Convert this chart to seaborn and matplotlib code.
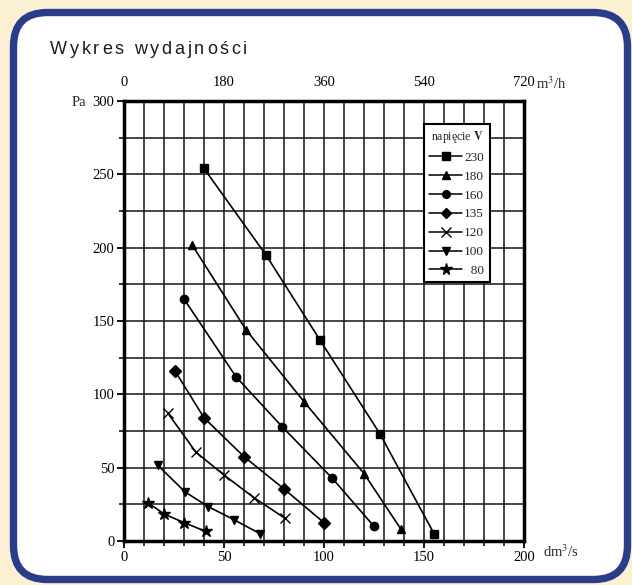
import matplotlib
matplotlib.use("Agg")
import matplotlib.pyplot as plt
import seaborn as sns
import pandas as pd
from matplotlib.patches import FancyBboxPatch
from matplotlib.lines import Line2D
from matplotlib.transforms import IdentityTransform

# ---- data ----
voltages = ["230", "180", "160", "135", "120", "100", "80"]
markers = ["s", "^", "o", "D", "x", "v", "*"]
flow_230 = [40, 71, 98, 128, 155]
pres_230 = [254, 195, 137, 73, 5]
flow_180 = [34, 61, 90, 120, 138.5]
pres_180 = [202, 144, 95, 46, 8]
flow_160 = [30, 56, 79, 104, 125]
pres_160 = [165, 112, 78, 43, 10]
flow_135 = [25.5, 40, 60, 80, 100]
pres_135 = [116, 84, 57.5, 35.5, 12.5]
flow_120 = [22, 36, 50, 65, 80.5]
pres_120 = [87, 60.5, 45, 29.5, 15.5]
flow_100 = [17, 30.5, 42, 55, 68]
pres_100 = [51.5, 33.5, 23.5, 14.5, 5]
flow_80 = [12, 20, 30, 41]
pres_80 = [26, 18.5, 12.5, 6.5]

flows = [flow_230, flow_180, flow_160, flow_135, flow_120, flow_100, flow_80]
press = [pres_230, pres_180, pres_160, pres_135, pres_120, pres_100, pres_80]

x_ticks = [0, 50, 100, 150, 200]
y_ticks = [0, 50, 100, 150, 200, 250, 300]
top_labels = ["0", "180", "360", "540", "720"]
title = "Wykres wydajności"

rows = []
for v, fx, py in zip(voltages, flows, press):
    for a, b in zip(fx, py):
        rows.append({"V": v, "flow": a, "pressure": b})
df = pd.DataFrame(rows)

# ---- figure ----
sns.set_style("white")
plt.rcParams["font.family"] = ["Liberation Serif", "DejaVu Serif"]
plt.rcParams["mathtext.fontset"] = "stix"

W, H = 632, 585
fig = plt.figure(figsize=(W / 100, H / 100), dpi=100)
fig.patch.set_facecolor("#FBF0D3")

blue = "#2B3C88"
panel = FancyBboxPatch((13.5, H - 579.5), 627.5 - 13.5, 579.5 - 12.5,
                       boxstyle="round,pad=0,rounding_size=34",
                       transform=IdentityTransform(), facecolor="white",
                       edgecolor=blue, linewidth=5.3, zorder=0)
fig.add_artist(panel)

# letter-spaced title, placed character by character
renderer = fig.canvas.get_renderer()
xpos = 50.0
tracking = 2.7
word_gap = 8.0
for ch in title:
    if ch == " ":
        xpos += word_gap
        continue
    t = fig.text(xpos / W, 1 - 50 / H, ch, fontsize=13, color="#1c1c1c",
                 va="center", ha="left", family=["Liberation Sans", "DejaVu Sans"])
    bb = t.get_window_extent(renderer=renderer)
    xpos += bb.width + tracking

ax = fig.add_axes([124 / W, (H - 541) / H, 400 / W, 440 / H])
ax.set_facecolor("white")

def msize(m):
    return {"*": 9, "x": 7}.get(m, 6)

for v, m in zip(voltages, markers):
    sub = df[df["V"] == v]
    sns.lineplot(data=sub, x="flow", y="pressure", marker=m, color="black",
                 markersize=msize(m), markeredgecolor="black", markeredgewidth=1.0,
                 linewidth=1.2, sort=False, estimator=None, ax=ax, legend=False,
                 zorder=3)

ax.set_xlim(0, 200)
ax.set_ylim(0, 300)
ax.set_xticks(x_ticks)
ax.set_xticks(range(0, 201, 10), minor=True)
ax.set_yticks(y_ticks)
ax.set_yticks(range(0, 301, 25), minor=True)
ax.set_xticklabels([str(t) for t in x_ticks])
ax.set_yticklabels([str(t) for t in y_ticks])
ax.grid(True, which="both", color="#1e1e1e", linewidth=1.15)
ax.set_axisbelow(True)
for s in ax.spines.values():
    s.set_linewidth(2.5)
    s.set_color("black")
    s.set_visible(True)
ax.tick_params(which="major", direction="out", length=5, width=1.3,
               labelsize=10.5, pad=2, colors="black")
ax.tick_params(which="minor", direction="out", length=3.5, width=1.3)
ax.tick_params(axis="x", which="both", top=False, bottom=True)
ax.tick_params(axis="y", which="both", left=True, right=False)
ax.set_xlabel("")
ax.set_ylabel("")

ax2 = ax.twiny()
ax2.set_xlim(0, 200)
ax2.set_xticks(x_ticks)
ax2.set_xticklabels(top_labels)
ax2.tick_params(axis="x", length=0, labelsize=10.5, pad=9, colors="black")
for s in ax2.spines.values():
    s.set_visible(False)

fig.text(543 / W, 1 - 552 / H, r"dm$^{3}$/s", fontsize=10.5, va="center", ha="left")
fig.text(536 / W, 1 - 84 / H, r"m$^{3}$/h", fontsize=10.5, va="center", ha="left")
fig.text(72 / W, 1 - 102 / H, "Pa", fontsize=10.5, va="center", ha="left")

handles = [Line2D([], [], color="black", marker=m, linewidth=1.1,
                  markersize=msize(m) - 0.5)
           for m in markers]
labels = [v if len(v) == 3 else "  " + v for v in voltages]
leg = ax.legend(handles, labels, loc="upper left", bbox_to_anchor=(0.75, 0.948),
                frameon=True, fancybox=False, edgecolor="black", framealpha=1,
                fontsize=9.5, handlelength=2.5, handletextpad=0.15,
                labelspacing=0.5, borderpad=0.4, borderaxespad=0,
                title=r"napięcie $\mathbf{V}$", title_fontsize=8.5)
leg.get_frame().set_linewidth(1.5)
leg.set_zorder(5)

fig.savefig("out.png", dpi=100, facecolor=fig.get_facecolor())
